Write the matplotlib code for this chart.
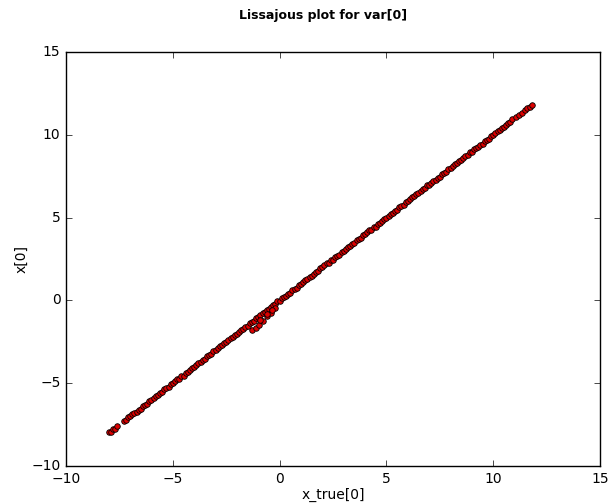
import matplotlib
matplotlib.use("Agg")
import matplotlib.pyplot as plt

plt.style.use('classic')

# x_true[0] vs estimated x[0]
x_true = [
    -8.0, -7.9, -7.8, -7.7, -7.6, -7.3, -7.2, -7.1, -7.0, -6.9,
    -6.8, -6.7, -6.6, -6.5, -6.4, -6.3, -6.2, -6.1, -6.0, -5.9,
    -5.8, -5.7, -5.6, -5.5, -5.4, -5.3, -5.2, -5.1, -5.0, -4.9,
    -4.8, -4.7, -4.6, -4.5, -4.4, -4.3, -4.2, -4.1, -4.0, -3.9,
    -3.8, -3.7, -3.6, -3.5, -3.4, -3.3, -3.2, -3.1, -3.0, -2.9,
    -2.8, -2.7, -2.6, -2.5, -2.4, -2.3, -2.2, -2.1, -2.0, -1.9,
    -1.8, -1.7, -1.6, -1.5, -1.4, -1.3, -1.2, -1.1, -1.0, -0.9,
    -0.8, -0.7, -0.6, -0.5, -0.4, -0.3, -0.2, -0.1, 0.0, 0.1,
    0.2, 0.3, 0.4, 0.5, 0.6, 0.7, 0.8, 0.9, 1.0, 1.1,
    1.2, 1.3, 1.4, 1.5, 1.6, 1.7, 1.8, 1.9, 2.0, 2.1,
    2.2, 2.3, 2.4, 2.5, 2.6, 2.7, 2.8, 2.9, 3.0, 3.1,
    3.2, 3.3, 3.4, 3.5, 3.6, 3.7, 3.8, 3.9, 4.0, 4.1,
    4.2, 4.3, 4.4, 4.5, 4.6, 4.7, 4.8, 4.9, 5.0, 5.1,
    5.2, 5.3, 5.4, 5.5, 5.6, 5.7, 5.8, 5.9, 6.0, 6.1,
    6.2, 6.3, 6.4, 6.5, 6.6, 6.7, 6.8, 6.9, 7.0, 7.1,
    7.2, 7.3, 7.4, 7.5, 7.6, 7.7, 7.8, 7.9, 8.0, 8.1,
    8.2, 8.3, 8.4, 8.5, 8.6, 8.7, 8.8, 8.9, 9.0, 9.1,
    9.2, 9.3, 9.4, 9.5, 9.6, 9.7, 9.8, 9.9, 10.0, 10.1,
    10.2, 10.3, 10.4, 10.5, 10.6, 10.7, 10.8, 10.9,
    11.05, 11.2, 11.35, 11.5, 11.6, 11.7, 11.8,
]
x_est = [
    -7.97, -7.92, -7.79, -7.74, -7.58, -7.30, -7.23, -7.06, -7.01, -6.88,
    -6.77, -6.72, -6.59, -6.54, -6.38, -6.30, -6.23, -6.06, -6.01, -5.88,
    -5.77, -5.72, -5.59, -5.54, -5.38, -5.30, -5.23, -5.06, -5.01, -4.88,
    -4.77, -4.72, -4.59, -4.54, -4.38, -4.30, -4.23, -4.06, -4.01, -3.88,
    -3.77, -3.72, -3.59, -3.54, -3.38, -3.30, -3.23, -3.06, -3.01, -2.88,
    -2.77, -2.72, -2.59, -2.54, -2.38, -2.30, -2.23, -2.06, -2.01, -1.88,
    -1.77, -1.72, -1.59, -1.54, -1.38, -1.30, -1.23, -1.06, -1.01, -0.88,
    -0.77, -0.72, -0.59, -0.54, -0.38, -0.30, -0.23, -0.06, -0.01, 0.12,
    0.23, 0.28, 0.41, 0.46, 0.62, 0.70, 0.77, 0.94, 0.99, 1.12,
    1.23, 1.28, 1.41, 1.46, 1.62, 1.70, 1.77, 1.94, 1.99, 2.12,
    2.23, 2.28, 2.41, 2.46, 2.62, 2.70, 2.77, 2.94, 2.99, 3.12,
    3.23, 3.28, 3.41, 3.46, 3.62, 3.70, 3.77, 3.94, 3.99, 4.12,
    4.23, 4.28, 4.41, 4.46, 4.62, 4.70, 4.77, 4.94, 4.99, 5.12,
    5.23, 5.28, 5.41, 5.46, 5.62, 5.70, 5.77, 5.94, 5.99, 6.12,
    6.23, 6.28, 6.41, 6.46, 6.62, 6.70, 6.77, 6.94, 6.99, 7.12,
    7.23, 7.28, 7.41, 7.46, 7.62, 7.70, 7.77, 7.94, 7.99, 8.12,
    8.23, 8.28, 8.41, 8.46, 8.62, 8.70, 8.77, 8.94, 8.99, 9.12,
    9.23, 9.28, 9.41, 9.46, 9.62, 9.70, 9.77, 9.94, 9.99, 10.12,
    10.23, 10.28, 10.41, 10.46, 10.62, 10.70, 10.77, 10.94,
    11.06, 11.20, 11.33, 11.50, 11.61, 11.70, 11.78,
]

# points that fall below the line near zero
off_true = [-1.28, -1.12, -0.95, -0.76, -0.57, -0.40, -0.20, -0.90, -0.60, -0.35]
off_est = [-1.81, -1.65, -1.47, -1.23, -0.95, -0.74, -0.48, -1.20, -0.85, -0.60]

fig = plt.figure(figsize=(6.08, 5.04), dpi=100, facecolor='white')
ax = fig.add_axes([0.1086, 0.0754, 0.8783, 0.8214])

ax.scatter(x_true + off_true, x_est + off_est, s=16, c='#dd0000',
           edgecolors='black', linewidths=0.6)

ax.set_xlim(-10, 15)
ax.set_ylim(-10, 15)
ax.tick_params(labelsize=10)
ax.set_xlabel('x_true[0]', fontsize=10, labelpad=2)
ax.set_ylabel('x[0]', fontsize=10, labelpad=2)
fig.suptitle('Lissajous plot for var[0]', fontsize=9, fontweight='bold',
             x=0.532, y=0.982)

fig.savefig('out.png', dpi=100, facecolor='white')
